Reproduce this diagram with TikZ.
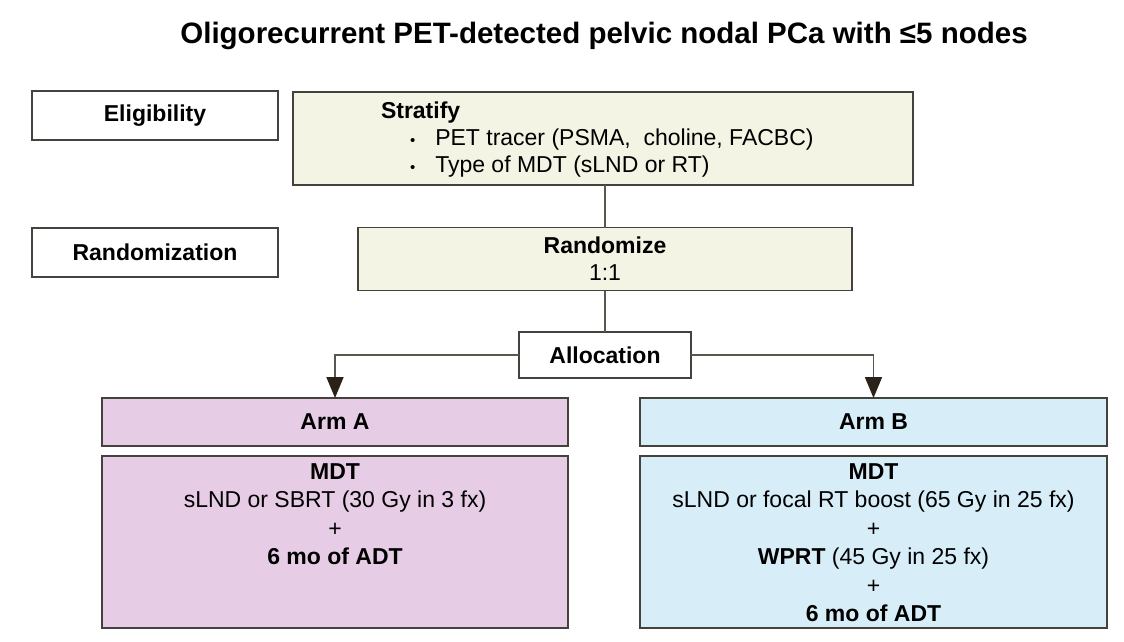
\documentclass[tikz,border=0pt]{standalone}
\usepackage{fontspec}
\setmainfont{Liberation Sans}
\usetikzlibrary{arrows.meta}
\definecolor{edge}{HTML}{45413D}
\definecolor{conn}{HTML}{5A5650}
\definecolor{beige}{HTML}{F3F4E4}
\definecolor{lilac}{HTML}{E6CCE4}
\definecolor{skyb}{HTML}{D7EEF9}
\definecolor{tipc}{HTML}{2A2218}
\begin{document}
\begin{tikzpicture}[x=1pt,y=-1pt,
  box/.style={draw=edge, line width=1.8pt, inner sep=0pt, outer sep=0pt},
  lbl/.style={inner sep=0pt, outer sep=0pt, font=\fontsize{23}{28}\selectfont},
  bold/.style={font=\fontsize{23}{28}\selectfont\bfseries},
  conline/.style={draw=conn, line width=1.8pt},
  arr/.style={conline, -{Triangle[width=17pt,length=21pt,fill=tipc,color=tipc]}}
]
\useasboundingbox (0,0) rectangle (1124,642);
% title
\node[lbl, font=\fontsize{29.5}{34}\selectfont\bfseries, anchor=base] (title) at (604,44) {Oligorecurrent PET-detected pelvic nodal PCa with ≤5 nodes};
% left labels
\node[box, fill=white, minimum width=246pt, minimum height=49pt, bold] (elig) at (155,115.5) {Eligibility};
\node[box, fill=white, minimum width=246pt, minimum height=49pt, bold] (randlab) at (155,252.5) {Randomization};
% stratify
\node[box, fill=beige, minimum width=620pt, minimum height=93pt] (strat) at (603,138.5) {};
\node[lbl, anchor=base west, bold] (s0) at (381,118) {Stratify};
\node[lbl, anchor=base west] (s1) at (410,145) {{\fontsize{15}{18}\selectfont •}\hspace{20pt}PET tracer (PSMA,\ \ choline, FACBC)};
\node[lbl, anchor=base west] (s2) at (410,172) {{\fontsize{15}{18}\selectfont •}\hspace{20pt}Type of MDT (sLND or RT)};
% randomize
\node[box, fill=beige, minimum width=494pt, minimum height=63pt] (rand) at (605,259) {};
\node[lbl, anchor=base, bold] (r0) at (605,253) {Randomize};
\node[lbl, anchor=base] (r1) at (605,280) {1:1};
% allocation
\node[box, fill=white, minimum width=172pt, minimum height=46pt, bold] (alloc) at (605,355) {Allocation};
% arms
\node[box, fill=lilac, minimum width=466pt, minimum height=48pt, bold] (ahead) at (335,422) {Arm A};
\node[box, fill=lilac, minimum width=466pt, minimum height=172pt] (abody) at (335,542) {};
\node[box, fill=skyb, minimum width=467pt, minimum height=48pt, bold] (bhead) at (873.5,422) {Arm B};
\node[box, fill=skyb, minimum width=467pt, minimum height=172pt] (bbody) at (873.5,542) {};
\node[lbl, anchor=north, align=center, font=\fontsize{23}{28.5}\selectfont] (atext) at (335,463.5) {\textbf{MDT}\\sLND or SBRT (30 Gy in 3 fx)\\+\\\textbf{6 mo of ADT}};
\node[lbl, anchor=north, align=center, font=\fontsize{23}{28.5}\selectfont] (btext) at (873.5,463.5) {\textbf{MDT}\\sLND or focal RT boost (65 Gy in 25 fx)\\+\\\textbf{WPRT} (45 Gy in 25 fx)\\+\\\textbf{6 mo of ADT}};
% connectors
\draw[conline] (strat.south -| rand.north) -- (rand.north);
\draw[conline] (rand.south) -- (alloc.north);
\draw[arr] (alloc.west) -| (ahead.north);
\draw[arr] (alloc.east) -| (bhead.north);
\end{tikzpicture}
\end{document}
